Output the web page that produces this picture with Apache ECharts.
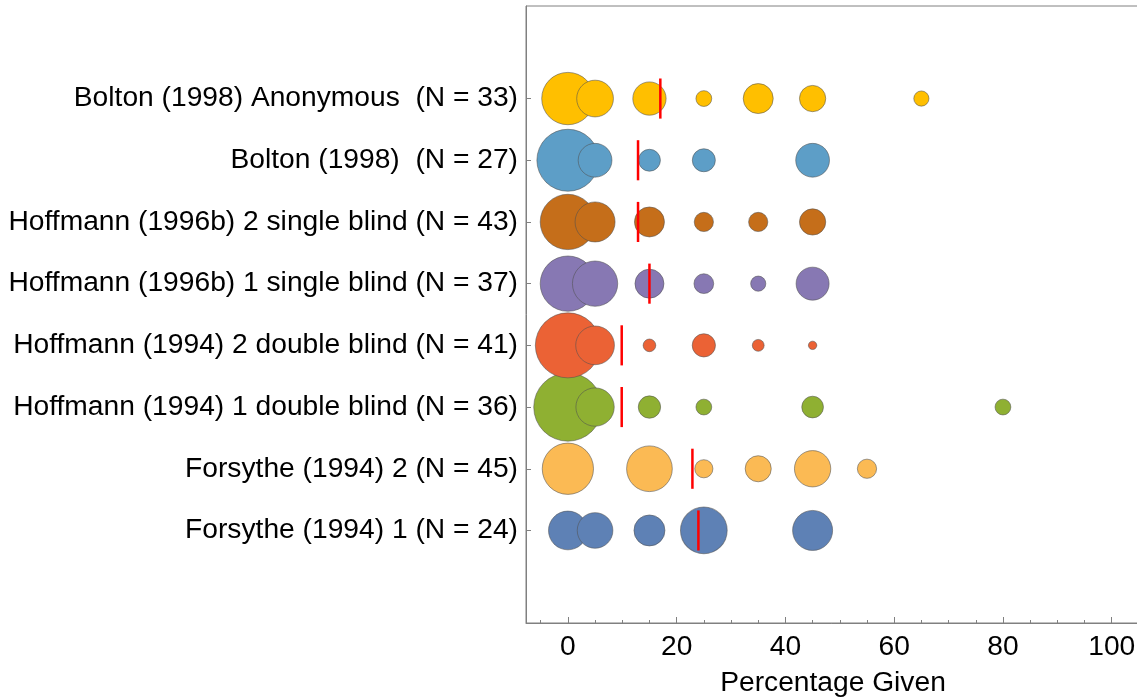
<!DOCTYPE html>
<html>
<head>
<meta charset="utf-8">
<script src="https://cdn.jsdelivr.net/npm/echarts@6/dist/echarts.min.js"></script>
<style>
html,body{margin:0;padding:0;background:#fff;}
#chart{width:1137px;height:698px;}
</style>
</head>
<body>
<div id="chart"></div>
<script>
// Row labels, bottom to top (blank slots pad the axis above and below)
const rowLabels = [
  "",
  "Forsythe (1994) 1 (N = 24)",
  "Forsythe (1994) 2 (N = 45)",
  "Hoffmann (1994) 1 double blind (N = 36)",
  "Hoffmann (1994) 2 double blind (N = 41)",
  "Hoffmann (1996b) 1 single blind (N = 37)",
  "Hoffmann (1996b) 2 single blind (N = 43)",
  "Bolton (1998)  (N = 27)",
  "Bolton (1998) Anonymous  (N = 33)",
  ""
];

// Percentage-given bins and bubble weights (area-proportional) per study
const forsythe1X = [0, 5, 15, 25, 45];
const forsythe1W = [15.0, 12.7, 9.6, 21.8, 16.0];
const forsythe2X = [0, 15, 25, 35, 45, 55];
const forsythe2W = [26.3, 20.9, 3.3, 6.8, 13.2, 3.7];
const hoff94d1X = [0, 5, 15, 25, 45, 80];
const hoff94d1W = [46.6, 14.7, 5.0, 2.5, 4.7, 2.5];
const hoff94d2X = [0, 5, 15, 25, 35, 45];
const hoff94d2W = [42.3, 15.0, 1.6, 5.4, 1.4, 0.7];
const hoff96s1X = [0, 5, 15, 25, 35, 45];
const hoff96s1W = [30.6, 20.5, 8.4, 3.9, 2.3, 10.9];
const hoff96s2X = [0, 5, 15, 25, 35, 45];
const hoff96s2W = [30.6, 16.0, 9.0, 3.7, 3.7, 6.9];
const boltonX = [0, 5, 15, 25, 45];
const boltonW = [38.4, 11.4, 4.8, 5.3, 11.4];
const boltonAnonX = [0, 5, 15, 25, 35, 45, 65];
const boltonAnonW = [27.4, 13.5, 11.1, 2.5, 9.0, 6.9, 2.3];

// Mean percentage given (red markers), bottom to top rows 1..8
const meanValues = [24.0, 22.9, 9.9, 9.9, 15.0, 12.9, 12.9, 17.0];

// Axis ticks
const majorTicks = [0, 20, 40, 60, 80, 100];
const minorTicks = [-5, 0, 5, 10, 15, 20, 25, 30, 35, 40, 45, 50, 55, 60, 65, 70, 75, 80, 85, 90, 95, 100];

const rowsX = [forsythe1X, forsythe2X, hoff94d1X, hoff94d2X, hoff96s1X, hoff96s2X, boltonX, boltonAnonX];
const rowsW = [forsythe1W, forsythe2W, hoff94d1W, hoff94d2W, hoff96s1W, hoff96s2W, boltonW, boltonAnonW];
const rowColors = ['#5E81B5', '#FBBA54', '#8FB032', '#EB6235', '#8778B3', '#C56E1A', '#5D9EC7', '#FFBF00'];

const FONT = "'Liberation Sans', Arial, sans-serif";
const FS = 28.2;
const XMIN = -7.7, XMAX = 105.2;

const series = rowsX.map((xs, i) => ({
  type: 'scatter',
  xAxisIndex: 0,
  yAxisIndex: 0,
  data: xs.map((x, j) => [x, rowLabels[i + 1], rowsW[i][j]]),
  symbolSize: v => 10 * Math.sqrt(v[2]),
  itemStyle: { color: rowColors[i], borderColor: 'rgba(80,80,80,0.55)', borderWidth: 1, opacity: 1 },
  emphasis: { disabled: true },
  z: 2 + i
}));

series.push({
  type: 'custom',
  xAxisIndex: 0,
  yAxisIndex: 0,
  z: 20,
  data: meanValues.map((m, i) => [m, i + 1]),
  encode: { x: 0, y: 1 },
  renderItem: function (params, api) {
    const c = api.coord([api.value(0), api.value(1)]);
    const h = api.size([0, 1])[1] * 0.325;
    return {
      type: 'line',
      shape: { x1: c[0], y1: c[1] - h, x2: c[0], y2: c[1] + h },
      style: { stroke: '#FF0000', lineWidth: 2.5 }
    };
  }
});

const chart = echarts.init(document.getElementById('chart'), null, { renderer: 'canvas' });
chart.setOption({
  animation: false,
  backgroundColor: '#ffffff',
  grid: { left: 526, top: 6, right: -3, bottom: 75, show: true, borderColor: '#808080', borderWidth: 1,
    backgroundColor: 'transparent', containLabel: false, outerBoundsMode: 'none' },
  xAxis: [
    {
      type: 'value', min: XMIN, max: XMAX, position: 'bottom',
      name: 'Percentage Given', nameLocation: 'middle', nameGap: 46,
      nameTextStyle: { fontFamily: FONT, fontSize: FS, color: '#000' },
      axisLine: { show: true, onZero: false, lineStyle: { color: '#808080', width: 1 } },
      axisTick: { show: true, inside: true, length: 6, customValues: majorTicks, lineStyle: { color: '#808080' } },
      axisLabel: { show: true, customValues: majorTicks, margin: 10, fontFamily: FONT, fontSize: FS, color: '#000' },
      splitLine: { show: false }
    },
    {
      type: 'value', min: XMIN, max: XMAX, position: 'bottom', offset: 0,
      axisLine: { show: false, onZero: false },
      axisTick: { show: true, inside: true, length: 3, customValues: minorTicks, lineStyle: { color: '#808080' } },
      axisLabel: { show: false },
      splitLine: { show: false }
    }
  ],
  yAxis: {
    type: 'category', data: rowLabels, boundaryGap: true,
    axisLine: { show: true, onZero: false, lineStyle: { color: '#808080', width: 1 } },
    axisTick: { show: true, inside: true, length: 5, alignWithLabel: true,
      interval: (idx, val) => val !== '', lineStyle: { color: '#808080' } },
    axisLabel: { interval: 0, margin: 8, fontFamily: FONT, fontSize: FS, color: '#000' },
    splitLine: { show: false }
  },
  series: series
});
</script>
</body>
</html>
